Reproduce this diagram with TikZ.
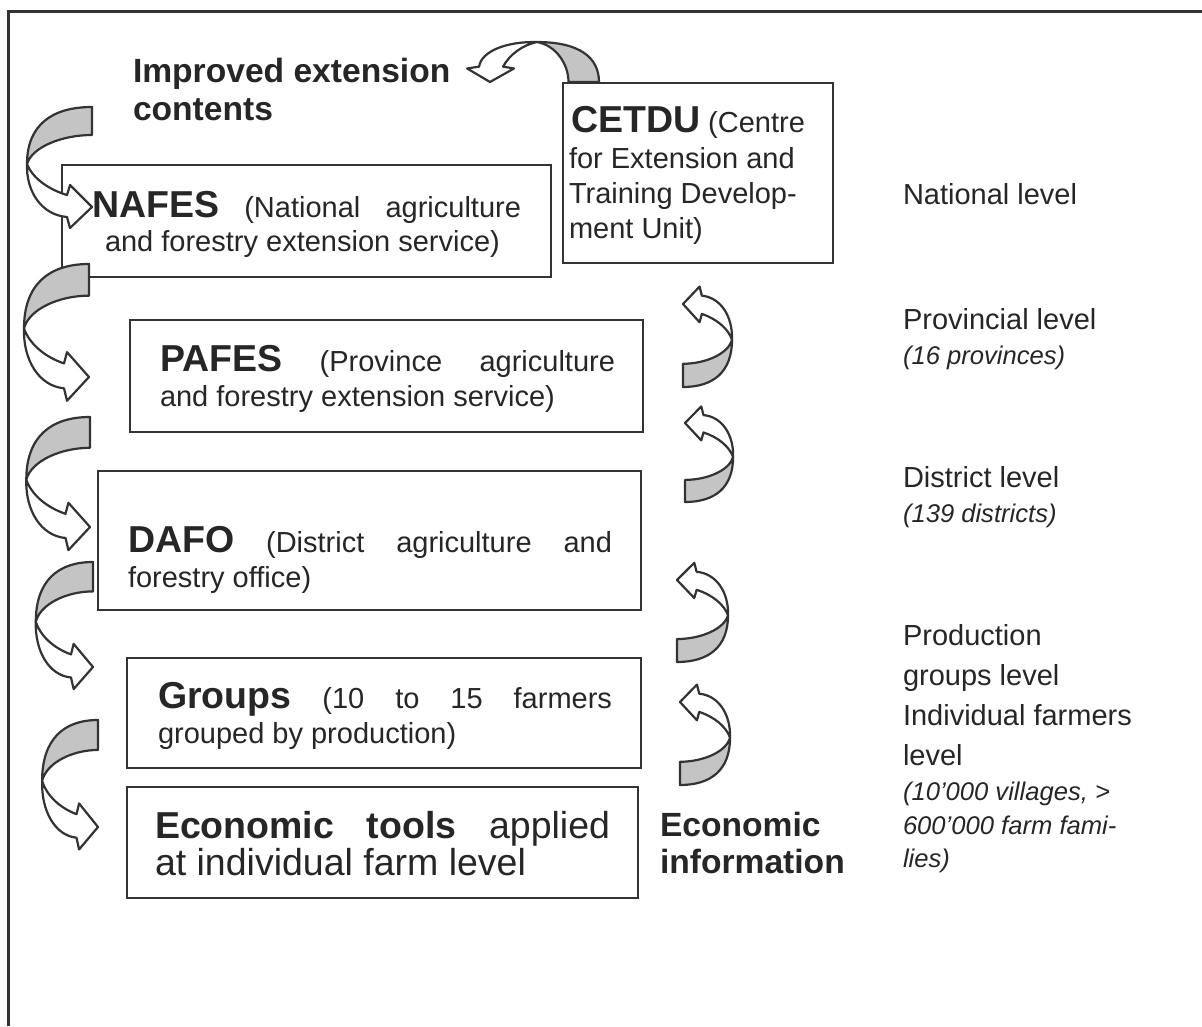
\documentclass[tikz,border=0pt]{standalone}
\usepackage{fontspec}
\setmainfont{Liberation Sans}
\definecolor{linec}{HTML}{333333}
\definecolor{textc}{HTML}{262626}
\definecolor{grayf}{HTML}{C4C4C4}
\newcommand\hbf{\fontsize{37.5}{40}\selectfont\bfseries}
\newcommand\rgf{\fontsize{29}{35}\selectfont\mdseries}
\newcommand\lbf{\fontsize{33.6}{38}\selectfont\bfseries}
\newcommand\itf{\fontsize{25.6}{30}\selectfont\itshape}
\newcommand\bigf{\fontsize{37.5}{40}\selectfont\mdseries}
\tikzset{
  boxst/.style={draw=linec, line width=2.4pt, fill=white, anchor=north west, inner sep=0, outer sep=0},
  txt/.style={anchor=base west, inner sep=0, outer sep=0, text=textc},
  arrw/.style={draw=linec, line width=2.2pt, line join=round},
}
\newcommand\carw[5]{%
  \begin{scope}[shift={#2},rotate=#3,xscale=#4,yscale=#5]
    \path[arrw,fill=grayf] (0,0) .. controls (-40,0) and (-65,18) .. (-65,57)
      .. controls (-60,40) and (-30,28) .. (0,28) -- cycle;
    \path[arrw,fill=white] (-65,57) .. controls (-66,85) and (-50,108) .. (-25,110)
      -- (-22,121) -- (0,100) -- (-22,78) -- (-25,88)
      .. controls (-45,82) and (-60,70) .. (-65,57) -- cycle;
    \coordinate (#1) at (0,0);
  \end{scope}}
\begin{document}
\begin{tikzpicture}[x=1pt,y=-1pt]
\useasboundingbox (0,0) rectangle (1202,1026);
\draw[linec, line width=3pt] (1202,11) -- (8,11) -- (8,1026);

% boxes
\node[boxst, minimum width=270, minimum height=180] (cetdu) at (563,83) {};
\node[boxst, minimum width=489, minimum height=112] (nafes) at (62,165) {};
\node[boxst, minimum width=513, minimum height=112] (pafes) at (130,320) {};
\node[boxst, minimum width=543, minimum height=139] (dafo) at (98,471) {};
\node[boxst, minimum width=514, minimum height=110] (groups) at (127,658) {};
\node[boxst, minimum width=511, minimum height=111] (econ) at (127,787) {};

% texts
\node[txt] (imp1) at (133,82) {\lbf Improved extension};
\node[txt] (imp2) at (133,120) {\lbf contents};

\node[txt] (c1) at (571,132) {\hbf CETDU\rgf{} (Centre};
\node[txt] (c2) at (569,168) {\rgf for Extension and};
\node[txt] (c3) at (569,203) {\rgf Training Develop-};
\node[txt] (c4) at (569,238) {\rgf ment Unit)};

\node[txt] (n1) at (92,217) {\makebox[429pt][s]{\hbf NAFES\rgf{} (National agriculture}};
\node[txt] (n2) at (105,251) {\rgf and forestry extension service)};

\node[txt] (p1) at (160,371) {\makebox[455pt][s]{\hbf PAFES\rgf{} (Province agriculture}};
\node[txt] (p2) at (160,406) {\rgf and forestry extension service)};

\node[txt] (d1) at (128,552) {\makebox[484pt][s]{\hbf DAFO\rgf{} (District agriculture and}};
\node[txt] (d2) at (128,587) {\rgf forestry office)};

\node[txt] (g1) at (158,708) {\makebox[454pt][s]{\hbf Groups\rgf{} (10 to 15 farmers}};
\node[txt] (g2) at (158,743) {\rgf grouped by production)};

\node[txt] (e1) at (155,838) {\makebox[455pt][s]{\hbf Economic tools\bigf{} applied}};
\node[txt] (e2) at (155,875) {\bigf at individual farm level};

\node[txt] (ei1) at (660,836) {\lbf Economic};
\node[txt] (ei2) at (660,873) {\lbf information};

\node[txt] (lv1) at (903,204) {\rgf National level};
\node[txt] (lv2) at (903,329) {\rgf Provincial level};
\node[txt] (lv2i) at (903,364) {\itf (16 provinces)};
\node[txt] (lv3) at (903,487) {\rgf District level};
\node[txt] (lv3i) at (903,522) {\itf (139 districts)};
\node[txt] (lv4) at (903,645) {\rgf Production};
\node[txt] (lv5) at (903,685) {\rgf groups level};
\node[txt] (lv6) at (903,725) {\rgf Individual farmers};
\node[txt] (lv7) at (903,765) {\rgf level};
\node[txt] (lv8) at (903,800) {\itf (10’000 villages, >};
\node[txt] (lv9) at (903,834) {\itf 600’000 farm fami-};
\node[txt] (lv10) at (903,867) {\itf lies)};

% curved arrows
\carw{atop}{(599,82)}{-90}{0.615}{1.09}
\carw{al1}{(92,107)}{0}{1}{1}
\carw{al2}{(89,264)}{0}{1.0}{1.13}
\carw{al3}{(90,417)}{0}{0.98}{1.10}
\carw{al4}{(93,562)}{0}{0.88}{1.05}
\carw{al5}{(98,720)}{0}{0.86}{1.07}
\carw{ar1}{(683,387)}{180}{0.754}{0.83}
\carw{ar2}{(685,502)}{180}{0.74}{0.79}
\carw{ar3}{(677,662)}{180}{0.785}{0.82}
\carw{ar4}{(680,785)}{180}{0.77}{0.83}
\end{tikzpicture}
\end{document}
